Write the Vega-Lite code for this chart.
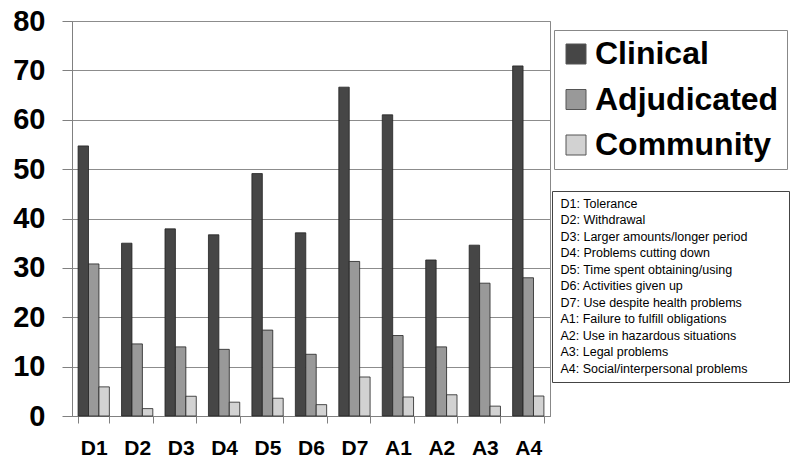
{
  "$schema": "https://vega.github.io/schema/vega-lite/v6.json",
  "width": 478,
  "height": 395,
  "autosize": {"type": "none"},
  "padding": {"left": 72, "top": 21, "right": 250, "bottom": 51},
  "background": "white",
  "config": {
    "font": "Liberation Sans",
    "view": {"stroke": "#888888", "strokeWidth": 1}
  },
  "data": {
    "values": [
      {"code": "D1", "group": "Clinical", "value": 54.7, "desc": "D1: Tolerance"},
      {"code": "D1", "group": "Adjudicated", "value": 30.8, "desc": "D1: Tolerance"},
      {"code": "D1", "group": "Community", "value": 5.9, "desc": "D1: Tolerance"},
      {"code": "D2", "group": "Clinical", "value": 35.0, "desc": "D2: Withdrawal"},
      {"code": "D2", "group": "Adjudicated", "value": 14.6, "desc": "D2: Withdrawal"},
      {"code": "D2", "group": "Community", "value": 1.5, "desc": "D2: Withdrawal"},
      {"code": "D3", "group": "Clinical", "value": 37.9, "desc": "D3: Larger amounts/longer period"},
      {"code": "D3", "group": "Adjudicated", "value": 14.0, "desc": "D3: Larger amounts/longer period"},
      {"code": "D3", "group": "Community", "value": 4.0, "desc": "D3: Larger amounts/longer period"},
      {"code": "D4", "group": "Clinical", "value": 36.7, "desc": "D4: Problems cutting down"},
      {"code": "D4", "group": "Adjudicated", "value": 13.5, "desc": "D4: Problems cutting down"},
      {"code": "D4", "group": "Community", "value": 2.8, "desc": "D4: Problems cutting down"},
      {"code": "D5", "group": "Clinical", "value": 49.1, "desc": "D5: Time spent obtaining/using"},
      {"code": "D5", "group": "Adjudicated", "value": 17.4, "desc": "D5: Time spent obtaining/using"},
      {"code": "D5", "group": "Community", "value": 3.6, "desc": "D5: Time spent obtaining/using"},
      {"code": "D6", "group": "Clinical", "value": 37.1, "desc": "D6: Activities given up"},
      {"code": "D6", "group": "Adjudicated", "value": 12.5, "desc": "D6: Activities given up"},
      {"code": "D6", "group": "Community", "value": 2.3, "desc": "D6: Activities given up"},
      {"code": "D7", "group": "Clinical", "value": 66.6, "desc": "D7: Use despite health problems"},
      {"code": "D7", "group": "Adjudicated", "value": 31.3, "desc": "D7: Use despite health problems"},
      {"code": "D7", "group": "Community", "value": 7.9, "desc": "D7: Use despite health problems"},
      {"code": "A1", "group": "Clinical", "value": 61.0, "desc": "A1: Failure to fulfill obligations"},
      {"code": "A1", "group": "Adjudicated", "value": 16.3, "desc": "A1: Failure to fulfill obligations"},
      {"code": "A1", "group": "Community", "value": 3.85, "desc": "A1: Failure to fulfill obligations"},
      {"code": "A2", "group": "Clinical", "value": 31.6, "desc": "A2: Use in hazardous situations"},
      {"code": "A2", "group": "Adjudicated", "value": 14.0, "desc": "A2: Use in hazardous situations"},
      {"code": "A2", "group": "Community", "value": 4.3, "desc": "A2: Use in hazardous situations"},
      {"code": "A3", "group": "Clinical", "value": 34.6, "desc": "A3: Legal problems"},
      {"code": "A3", "group": "Adjudicated", "value": 26.9, "desc": "A3: Legal problems"},
      {"code": "A3", "group": "Community", "value": 2.0, "desc": "A3: Legal problems"},
      {"code": "A4", "group": "Clinical", "value": 70.9, "desc": "A4: Social/interpersonal problems"},
      {"code": "A4", "group": "Adjudicated", "value": 28.0, "desc": "A4: Social/interpersonal problems"},
      {"code": "A4", "group": "Community", "value": 4.05, "desc": "A4: Social/interpersonal problems"}
    ]
  },
  "encoding": {
    "x": {
      "field": "code",
      "type": "nominal",
      "sort": ["D1", "D2", "D3", "D4", "D5", "D6", "D7", "A1", "A2", "A3", "A4"],
      "scale": {"paddingInner": 0.28, "paddingOuter": 0.14},
      "axis": {
        "title": null,
        "labelAngle": 0,
        "labelFont": "Liberation Sans",
        "labelFontSize": 21,
        "labelFontWeight": "bold",
        "labelColor": "black",
        "labelPadding": 14,
        "tickBand": "extent",
        "tickSize": 7,
        "tickColor": "#808080",
        "domainColor": "#808080",
        "grid": false
      }
    },
    "y": {
      "field": "value",
      "type": "quantitative",
      "scale": {"domain": [0, 80], "nice": false},
      "axis": {
        "title": null,
        "values": [0, 10, 20, 30, 40, 50, 60, 70, 80],
        "labelFont": "Liberation Sans",
        "labelFontSize": 29,
        "labelFontWeight": "bold",
        "labelColor": "black",
        "labelPadding": 17,
        "tickSize": 10,
        "tickColor": "#808080",
        "domainColor": "#808080",
        "gridColor": "#8c8c8c",
        "gridOpacity": 1
      }
    }
  },
  "layer": [
    {
      "mark": {"type": "bar", "stroke": "#222222", "strokeWidth": 0.8},
      "encoding": {
        "xOffset": {"field": "group", "type": "nominal", "sort": ["Clinical", "Adjudicated", "Community"]},
        "color": {
          "field": "group",
          "type": "nominal",
          "sort": ["Clinical", "Adjudicated", "Community"],
          "scale": {"domain": ["Clinical", "Adjudicated", "Community"], "range": ["#464646", "#999999", "#d2d2d2"]},
          "legend": {
            "title": null,
            "orient": "none",
            "legendX": 482,
            "legendY": 9,
            "padding": 8,
            "strokeColor": "#888888",
            "fillColor": "white",
            "symbolType": "square",
            "symbolSize": 400,
            "symbolOffset": -2,
            "symbolStrokeColor": "#555555",
            "symbolStrokeWidth": 1,
            "labelFont": "Liberation Sans",
            "labelFontSize": 32,
            "labelFontWeight": "bold",
            "labelColor": "black",
            "labelOffset": 3,
            "rowPadding": 13.5,
            "labelLimit": 400
          }
        }
      }
    },
    {
      "transform": [{"filter": "datum.group === 'Clinical'"}],
      "mark": {"type": "point", "opacity": 0},
      "encoding": {
        "shape": {
          "field": "desc",
          "type": "nominal",
          "scale": {
            "domain": [
              "D1: Tolerance",
              "D2: Withdrawal",
              "D3: Larger amounts/longer period",
              "D4: Problems cutting down",
              "D5: Time spent obtaining/using",
              "D6: Activities given up",
              "D7: Use despite health problems",
              "A1: Failure to fulfill obligations",
              "A2: Use in hazardous situations",
              "A3: Legal problems",
              "A4: Social/interpersonal problems"
            ]
          },
          "legend": {
            "title": null,
            "orient": "none",
            "legendX": 480,
            "legendY": 170,
            "padding": 6.5,
            "strokeColor": "#444444",
            "fillColor": "white",
            "symbolSize": 0.01,
            "symbolOpacity": 0,
            "symbolStrokeWidth": 0,
            "symbolOffset": 0,
            "labelOffset": -10.5,
            "labelFont": "Liberation Sans",
            "labelFontSize": 12.5,
            "labelColor": "black",
            "labelExpr": "datum.label + '\u00a0\u00a0\u00a0\u00a0\u00a0\u00a0\u00a0\u00a0\u00a0\u00a0\u200b'",
            "rowPadding": 3.5,
            "labelLimit": 400
          }
        }
      }
    }
  ]
}
